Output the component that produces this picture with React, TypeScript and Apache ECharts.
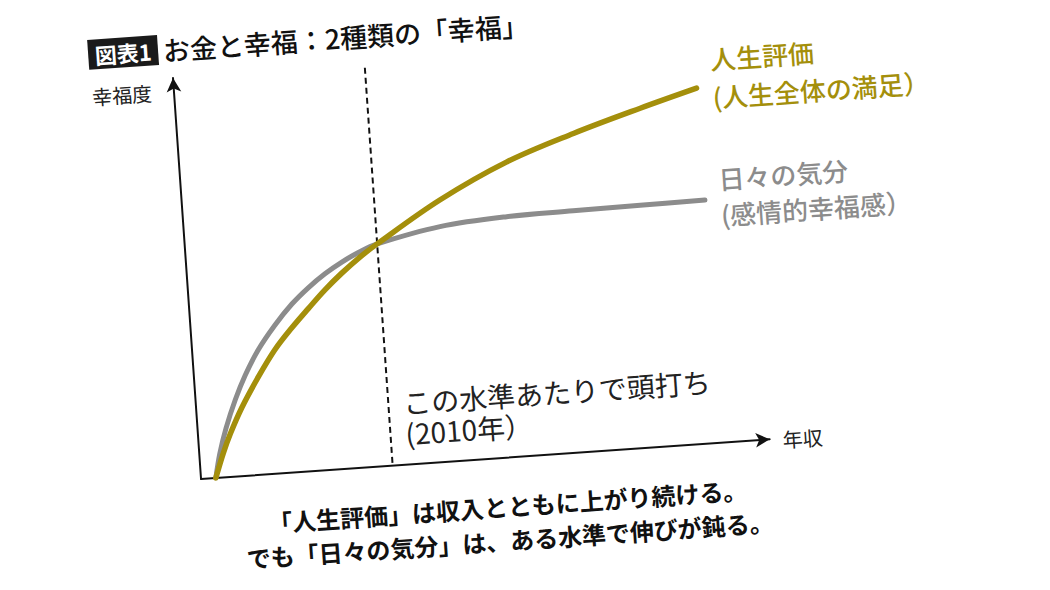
import { useEffect, useRef } from 'react';
import * as echarts from 'echarts';

// 年収 (x) と幸福度 (y)。目盛りは 0〜100 の相対値
const incomeLife = [2.6, 4.2, 5.7, 8.0, 11.3, 14.5, 17.7, 20.9, 24.0, 27.1, 30.2, 33.7, 45.2, 57.4, 69.4, 81.4, 91.5];
const lifeEvaluation = [0, 6.0, 10.8, 17.0, 24.4, 30.8, 35.9, 40.5, 44.8, 48.6, 52.0, 55.3, 65.1, 73.4, 79.3, 84.4, 88.4];
const incomeMood = [2.6, 3.6, 5.0, 7.0, 9.0, 11.6, 14.8, 18.0, 21.1, 24.2, 27.3, 30.3, 33.7, 44.9, 56.7, 68.4, 80.2, 91.6];
const dailyMood = [0, 6.0, 12.2, 19.2, 25.0, 31.1, 36.9, 41.8, 45.6, 48.8, 51.4, 53.5, 55.3, 58.5, 59.8, 60.1, 60.3, 60.5];
// 頭打ちの目安 (2010年)
const plateauX = 33.7;
const plateauSpan = [0.7, 99.3];

const titleBadge = '図表1';
const titleText = 'お金と幸福：2種類の「幸福」';
const yName = '幸福度';
const xName = '年収';
const plateauNote = 'この水準あたりで頭打ち\n(2010年）';
const lifeLabel = '人生評価\n(人生全体の満足）';
const moodLabel = '日々の気分\n(感情的幸福感）';
const caption = '「人生評価」は収入とともに上がり続ける。\nでも「日々の気分」は、ある水準で伸びが鈍る。';

const GOLD = '#a48f0b';
const GRAY = '#8c8c8c';
const FONT = "'Noto Sans CJK JP', 'Noto Sans', sans-serif";

export default function App() {
  const chartRef = useRef<HTMLDivElement>(null);

  useEffect(() => {
    if (!chartRef.current) return;
    const chart = echarts.init(chartRef.current, undefined, { renderer: 'svg' });

    const axisLine = {
      show: true,
      symbol: ['none', 'arrow'],
      symbolSize: [11, 14],
      lineStyle: { color: '#111', width: 2 },
    };

    chart.setOption({
      animation: false,
      backgroundColor: '#fff',
      textStyle: { fontFamily: FONT },
      grid: { left: 189, top: 54, width: 570, height: 402 },
      xAxis: {
        type: 'value',
        min: 0,
        max: 100,
        axisLine,
        axisTick: { show: false },
        axisLabel: { show: false },
        splitLine: { show: false },
      },
      yAxis: {
        type: 'value',
        min: 0,
        max: 100,
        axisLine,
        axisTick: { show: false },
        axisLabel: { show: false },
        splitLine: { show: false },
      },
      series: [
        {
          name: '頭打ち',
          type: 'line',
          data: plateauSpan.map(v => [plateauX, v]),
          showSymbol: false,
          lineStyle: { color: '#111', width: 2, type: [6, 4] },
          z: 1,
        },
        {
          name: '日々の気分',
          type: 'line',
          data: incomeMood.map((x, i) => [x, dailyMood[i]]),
          smooth: 0.35,
          showSymbol: false,
          lineStyle: { color: GRAY, width: 5, cap: 'round' },
          z: 2,
        },
        {
          name: '人生評価',
          type: 'line',
          data: incomeLife.map((x, i) => [x, lifeEvaluation[i]]),
          smooth: 0.35,
          showSymbol: false,
          lineStyle: { color: GOLD, width: 5.5, cap: 'round' },
          z: 3,
        },
      ],
      graphic: [
        { type: 'rect', shape: { x: 106, y: 10, width: 70, height: 30 }, style: { fill: '#1a1a1a' } },
        {
          type: 'text', x: 141, y: 25,
          style: { text: titleBadge, fill: '#fff', font: `bold 22px ${FONT}`, textAlign: 'center', textVerticalAlign: 'middle' },
        },
        {
          type: 'text', x: 181, y: 25,
          style: { text: titleText, fill: '#111', font: `500 27px ${FONT}`, textAlign: 'left', textVerticalAlign: 'middle' },
        },
        {
          type: 'text', x: 137, y: 67,
          style: { text: yName, fill: '#222', font: `20px ${FONT}`, textAlign: 'center', textVerticalAlign: 'middle' },
        },
        {
          type: 'text', x: 772, y: 457,
          style: { text: xName, fill: '#222', font: `20px ${FONT}`, textAlign: 'left', textVerticalAlign: 'middle' },
        },
        {
          type: 'text', x: 396, y: 378,
          style: { text: plateauNote, fill: '#222', font: `28px ${FONT}`, lineHeight: 31, textAlign: 'left', textVerticalAlign: 'top' },
        },
        {
          type: 'text', x: 726, y: 53,
          style: { text: lifeLabel, fill: GOLD, font: `500 26px ${FONT}`, lineHeight: 38, textAlign: 'left', textVerticalAlign: 'top' },
        },
        {
          type: 'text', x: 726, y: 174,
          style: { text: moodLabel, fill: GRAY, font: `500 26px ${FONT}`, lineHeight: 36, textAlign: 'left', textVerticalAlign: 'top' },
        },
        {
          type: 'text', x: 493, y: 487,
          style: { text: caption, fill: '#111', font: `bold 24px ${FONT}`, lineHeight: 34, textAlign: 'center', textVerticalAlign: 'top' },
        },
      ],
    });

    return () => {
      chart.dispose();
    };
  }, []);

  return (
    <div style={{ position: 'fixed', left: 0, top: 0, width: 1050, height: 590, overflow: 'hidden', background: '#fff' }}>
      {/* 元の図は全体が少し傾いている */}
      <div
        ref={chartRef}
        style={{ position: 'absolute', left: 0, top: 0, width: 1050, height: 590, transform: 'rotate(-4deg)' }}
      />
    </div>
  );
}
